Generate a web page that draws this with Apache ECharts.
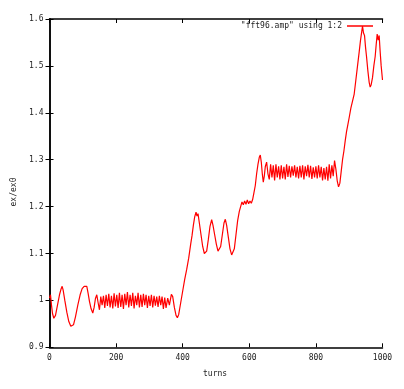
<!DOCTYPE html>
<html>
<head>
<meta charset="utf-8">
<script src="https://cdn.jsdelivr.net/npm/echarts@6/dist/echarts.min.js"></script>
<style>
html,body{margin:0;padding:0;background:#fff;}
#c{width:404px;height:389px;}
</style>
</head>
<body>
<div id="c"></div>
<script>
var turns = [0,3,6,9,13,18,24,30,35,38,41,46,52,58,64,68,72,78,85,92,98,104,108,112,116,120,125,130,134,138,142,146,150,154,158,162,166,170,174,178,182,186,190,194,198,202,206,210,214,218,222,226,230,234,238,242,246,250,254,258,262,266,270,274,278,282,286,290,294,298,302,306,310,314,318,322,326,330,334,338,342,346,350,355,360,366,370,375,380,384,388,394,400,406,412,418,424,428,432,436,440,443,446,450,455,460,465,468,472,477,482,487,491,496,501,506,510,514,519,524,528,532,537,542,547,551,555,560,565,570,574,578,582,586,590,594,598,602,606,610,614,618,622,626,630,633,636,639,642,645,648,652,656,660,664,668,672,676,680,684,688,692,696,700,704,708,712,716,720,724,728,732,736,740,744,748,752,756,760,764,768,772,776,780,784,788,792,796,800,804,808,812,816,820,824,828,832,836,840,844,848,852,856,860,864,868,872,876,880,884,888,892,896,900,905,910,915,920,925,930,934,937,940,943,946,949,952,956,960,963,966,970,974,978,981,984,987,990,993,996,1000];
var ratio = [1.005,1.012,0.99,0.972,0.962,0.968,0.99,1.012,1.025,1.03,1.022,1.0,0.975,0.955,0.945,0.942,0.948,0.965,0.99,1.012,1.025,1.03,1.034,1.03,1.015,0.998,0.982,0.973,0.985,1.004,1.012,0.995,0.98,1.008,0.99,1.01,0.984,1.012,0.988,1.014,0.985,1.01,0.983,1.015,0.987,1.012,0.984,1.016,0.986,1.012,0.982,1.014,0.99,1.018,0.985,1.012,0.988,1.016,0.983,1.01,0.99,1.016,0.985,1.012,0.986,1.014,0.99,1.012,0.984,1.01,0.988,1.012,0.985,1.01,0.989,1.008,0.986,1.01,0.99,1.008,0.982,1.006,0.984,1.005,0.99,1.013,1.008,0.985,0.968,0.963,0.97,0.995,1.02,1.045,1.066,1.09,1.12,1.138,1.16,1.178,1.188,1.18,1.185,1.165,1.14,1.115,1.1,1.096,1.105,1.13,1.158,1.172,1.16,1.14,1.12,1.105,1.103,1.115,1.14,1.165,1.173,1.16,1.135,1.11,1.097,1.093,1.11,1.14,1.17,1.19,1.2,1.21,1.204,1.212,1.205,1.214,1.206,1.212,1.207,1.215,1.23,1.245,1.27,1.29,1.305,1.31,1.295,1.27,1.252,1.265,1.285,1.295,1.27,1.258,1.29,1.262,1.288,1.256,1.29,1.262,1.286,1.258,1.288,1.26,1.285,1.258,1.29,1.263,1.287,1.262,1.286,1.266,1.288,1.262,1.285,1.26,1.287,1.262,1.288,1.258,1.286,1.265,1.289,1.262,1.287,1.259,1.284,1.262,1.286,1.26,1.288,1.262,1.285,1.256,1.282,1.258,1.285,1.255,1.29,1.26,1.288,1.265,1.298,1.28,1.255,1.242,1.25,1.275,1.3,1.318,1.34,1.36,1.375,1.39,1.41,1.425,1.44,1.47,1.5,1.53,1.555,1.57,1.585,1.57,1.565,1.54,1.52,1.49,1.465,1.455,1.46,1.475,1.5,1.52,1.545,1.568,1.555,1.565,1.53,1.5,1.47];
var xTicks = [0,200,400,600,800,1000];
var yTicks = [0.9,1.0,1.1,1.2,1.3,1.4,1.5,1.6];
var seriesName = '"fft96.amp" using 1:2';
var xName = 'turns';
var yName = 'ex/ex0';

var pts = turns.map(function(t,i){return [t, ratio[i]];});
var font = 'DejaVu Sans Mono';
var txt = '#222';
var chart = echarts.init(document.getElementById('c'), null, {renderer:'canvas'});
var tickStyle = {inside:true, length:4, lineStyle:{color:'#000', width:1}};
var lineStyle = {color:'#000', width:1.5};
chart.setOption({
  animation:false,
  backgroundColor:'#fff',
  grid:{left:49.5, right:21.5, top:19, bottom:41.7, containLabel:false},
  legend:{
    data:[{name:seriesName, icon:'rect'}],
    right:31, top:22, align:'right', itemWidth:26, itemHeight:1.5, itemGap:5,
    textStyle:{fontFamily:font, fontSize:8, color:txt}, padding:0
  },
  xAxis:[{
    type:'value', min:xTicks[0], max:xTicks[xTicks.length-1], interval:200,
    axisLine:{show:true, lineStyle:lineStyle}, axisTick:tickStyle, splitLine:{show:false},
    axisLabel:{fontFamily:font, fontSize:8, color:txt, margin:7,
      formatter:function(v){return String(v);}}
  },{
    type:'value', position:'top', min:0, max:1000, interval:200,
    axisLine:{show:true, lineStyle:lineStyle}, axisTick:tickStyle, splitLine:{show:false},
    axisLabel:{show:false}
  }],
  yAxis:[{
    type:'value', min:yTicks[0], max:yTicks[yTicks.length-1], interval:0.1,
    axisLine:{show:true, lineStyle:lineStyle}, axisTick:tickStyle, splitLine:{show:false},
    axisLabel:{fontFamily:font, fontSize:8, color:txt, margin:6,
      formatter:function(v){return String(Math.round(v*10)/10);}}
  },{
    type:'value', position:'right', min:0.9, max:1.6, interval:0.1,
    axisLine:{show:true, lineStyle:lineStyle}, axisTick:tickStyle, splitLine:{show:false},
    axisLabel:{show:false}
  }],
  graphic:[
    {type:'text', left:203, top:370, style:{text:xName, fontFamily:font, fontSize:8, fill:txt}},
    {type:'text', x:14, y:192, rotation:Math.PI/2, style:{text:yName, fontFamily:font, fontSize:8, fill:txt, align:'center', verticalAlign:'middle'}}
  ],
  series:[{
    name:seriesName, type:'line', data:pts, showSymbol:false, symbol:'none',
    lineStyle:{color:'#ff0000', width:1.2}, itemStyle:{color:'#ff0000'}
  }]
});
</script>
</body>
</html>
